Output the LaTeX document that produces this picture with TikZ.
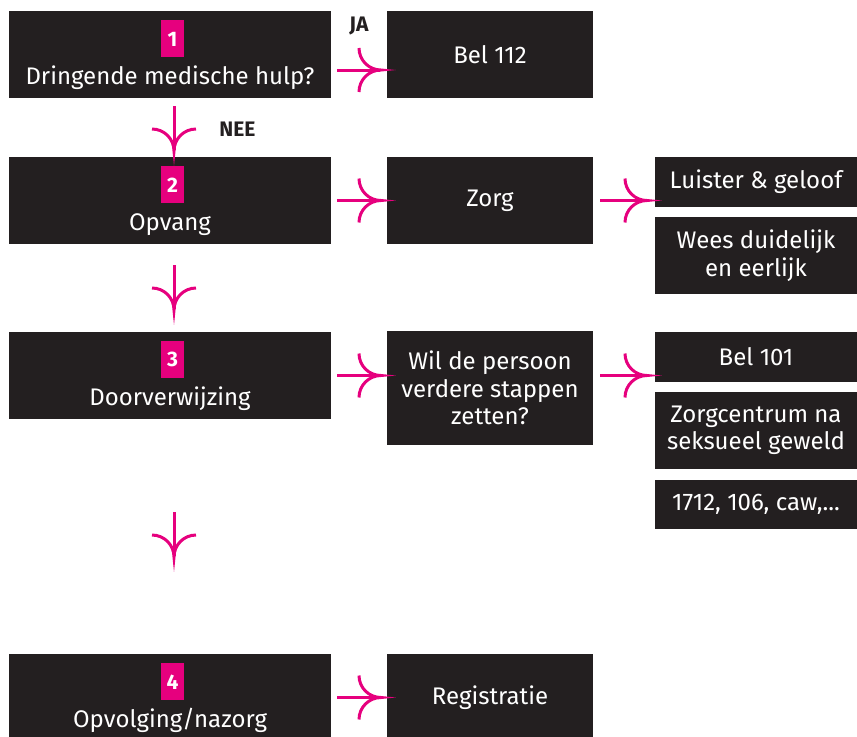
\documentclass[tikz,border=0pt]{standalone}
\usepackage{fontspec}
\setmainfont{Fira Sans}
\usepackage{tikz}
\usetikzlibrary{arrows.meta,calc,positioning}

\definecolor{boxdark}{HTML}{231F20}
\definecolor{roze}{HTML}{E6007E}

\newcommand*\barblen{11pt}
\newcommand*\stapfont{\fontsize{12}{13.75}\selectfont}
\newcommand*\kleinfont{\fontsize{10.5}{12}\selectfont\bfseries}

% tip with two curved barbs
\pgfdeclarearrow{
  name = Fork,
  parameters = {\the\pgfarrowlength},
  setup code = {
    \pgfarrowssettipend{0pt}
    \pgfarrowssetlineend{-0.5pt}
    \pgfarrowssetbackend{-\pgfarrowlength}
    \pgfarrowsupperhullpoint{-\pgfarrowlength}{\pgfarrowlength}
    \pgfarrowsupperhullpoint{0pt}{0.5pt}
    \pgfarrowssavethe\pgfarrowlength
  },
  drawing code = {
    \pgfpathmoveto{\pgfqpoint{-\pgfarrowlength}{\pgfarrowlength}}
    \pgfpatharc{180}{270}{\pgfarrowlength}
    \pgfpatharc{90}{180}{\pgfarrowlength}
    \pgfusepathqstroke
  },
  defaults = {length = \barblen}
}

\tikzset{
    stepbox/.style  = {fill=boxdark, minimum width=161pt, minimum height=43.5pt,
                       inner sep=0pt, outer sep=0pt},
    infobox/.style  = {fill=boxdark, text=white, font=\stapfont, align=center,
                       minimum width=103pt, inner sep=0pt, outer sep=0pt},
    tipbox/.style   = {infobox, minimum width=101pt},
    badge/.style    = {fill=roze, text=white, font=\kleinfont,
                       minimum width=11.5pt, minimum height=18.5pt, inner sep=0pt},
    steptext/.style = {text=white, font=\stapfont, inner sep=0pt},
    answer/.style   = {text=boxdark, font=\kleinfont, inner sep=0pt},
    link/.style     = {draw=roze, line width=1.5pt, -Fork},
    gap/.style      = {shorten <=3pt, shorten >=3pt},
}

\begin{document}
\begin{tikzpicture}[x=0.5pt, y=-0.5pt]
    \useasboundingbox (0,0) rectangle (857,736);

    % steps 1-4 in the left column
    \foreach \n/\y/\tekst in {1/54.5/{Dringende medische hulp?}, 2/200.5/Opvang,
                              3/375.5/Doorverwijzing, 4/697.5/{Opvolging/nazorg}} {
        \node[stepbox] (s\n) at (170,\y) {};
        \node[badge, below=4.5pt of s\n.north, xshift=1.25pt] (n\n) {\n};
        \node[steptext, anchor=base] (t\n) at ([yshift=-36.5pt]s\n.north) {\tekst};
    }

    % middle column
    \node[infobox, minimum height=43.5pt] (bel112) at (490,54.5) {Bel 112};
    \node[infobox, minimum height=43.5pt] (zorg) at (490,200.5) {Zorg};
    \node[infobox, minimum height=57pt] (wil) at (490,388)
        {Wil de persoon\\verdere stappen\\zetten?};
    \node[infobox, minimum height=43.5pt] (registratie) at (490,697.5) {Registratie};

    % right column
    \node[tipbox, minimum height=25pt] (luister) at (756,182) {Luister \& geloof};
    \node[tipbox, minimum height=38.5pt] (wees) at (756,255.5) {Wees duidelijk\\en eerlijk};
    \node[tipbox, minimum height=25pt] (bel101) at (756,357) {Bel 101};
    \node[tipbox, minimum height=38.5pt] (zorgcentrum) at (756,430.5)
        {Zorgcentrum na\\seksueel geweld};
    \node[tipbox, minimum height=24.5pt] (nummers) at (756,504.5) {1712, 106, caw,...};

    % answers
    \node[answer] (ja) at (359,26) {JA};
    \node[answer] (nee) at (237.5,129.5) {NEE};

    % loose arrow ends
    \coordinate (pijl2a) at (174,265);
    \coordinate (pijl2b) at (174,310);
    \coordinate (pijl3a) at (174,512);
    \coordinate (pijl3b) at (174,557);

    % arrows
    \draw[link, gap] ($(s1.east)+(0,-7.75pt)$) -- ($(s1.east -| bel112.west)+(0,-7.75pt)$);
    \draw[link, gap, shorten <=4pt] ($(s1.south)+(2pt,0)$) -- ($(s2.north)+(2pt,0)$);
    \draw[link] (pijl2a) -- (pijl2b);
    \draw[link] (pijl3a) -- (pijl3b);
    \draw[link, gap] (s2) -- (zorg);
    \draw[link, gap] (s3.east) -- (s3.east -| wil.west);
    \draw[link, gap] (s4) -- (registratie);
    \draw[link, gap, shorten <=3.5pt, shorten >=4pt] (zorg.east) -- (zorg.east -| luister.west);
    \draw[link, gap, shorten <=3.5pt, shorten >=4pt] (wil.east |- s3.east) -- (s3.east -| bel101.west);
\end{tikzpicture}
\end{document}
